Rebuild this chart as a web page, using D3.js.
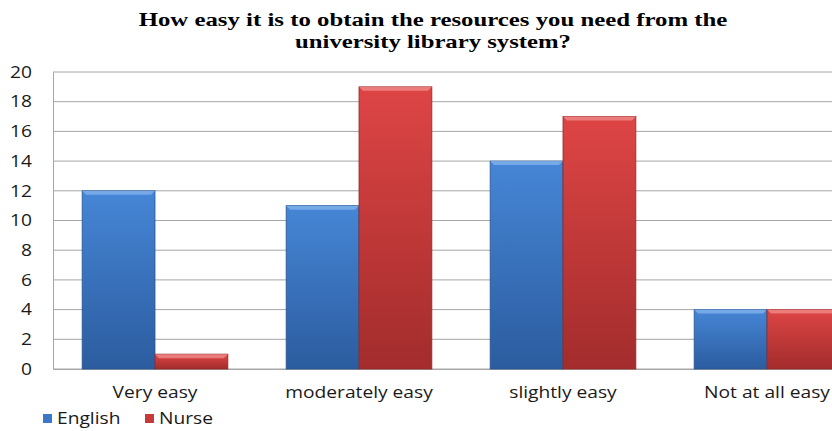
<!DOCTYPE html>
<html>
<head>
<meta charset="utf-8">
<script src="https://cdn.jsdelivr.net/npm/d3@7"></script>
<style>
  body { margin: 0; background: #fff; }
  svg { display: block; }
</style>
</head>
<body>
<div class="container"></div>
<script>
// chart data
const categories = ['Very easy', 'moderately easy', 'slightly easy', 'Not at all easy'];
const seriesNames = ['English', 'Nurse'];
const english = [12, 11, 14, 4];
const nurse = [1, 19, 17, 4];
const yTicks = [0, 2, 4, 6, 8, 10, 12, 14, 16, 18, 20];
const titleLines = ['How easy it is to obtain the resources you need from the', 'university library system?'];

const width = 832, height = 431;
const plotLeft = 53, plotTop = 72, plotBottom = 369, plotRight = 869;
const stretch = 1.2; // the reference text is drawn wide

let svg = d3.select('.container')
    .append('svg')
    .attr('width', width)
    .attr('height', height)

let defs = svg.append('defs')
let grads = [['blue', '#4686d6', '#2b5c9f'], ['red', '#de4545', '#a32c2c']]
grads.forEach(g => {
    let lg = defs.append('linearGradient')
        .attr('id', 'g-' + g[0])
        .attr('x1', 0).attr('y1', 0).attr('x2', 0).attr('y2', 1)
    lg.append('stop').attr('offset', '0%').attr('stop-color', g[1])
    lg.append('stop').attr('offset', '100%').attr('stop-color', g[2])
})
const fills = ['url(#g-blue)', 'url(#g-red)']
const edges = ['#2a5590', '#962828']
const tops = ['#82b2ec', '#f08a8a']
const legendColors = ['#3b78c8', '#c83a3a']

let y = d3.scaleLinear()
    .domain([0, 20])
    .range([plotBottom, plotTop])
let x0 = d3.scaleBand()
    .domain(categories)
    .range([plotLeft, plotRight])
    .paddingInner(0)
    .paddingOuter(0)
let x1 = d3.scaleBand()
    .domain(seriesNames)
    .range([0, x0.bandwidth()])
    .paddingOuter(0.4)
    .paddingInner(0)

// gridlines
svg.append('g')
    .selectAll('line')
    .data(yTicks)
    .enter()
    .append('line')
    .attr('x1', plotLeft)
    .attr('x2', plotRight)
    .attr('y1', d => y(d))
    .attr('y2', d => y(d))
    .attr('stroke', '#a6a6a6')
    .attr('stroke-width', 1)

let yAxis = d3.axisLeft(y)
    .tickValues(yTicks)
    .tickSize(0)
let gy = svg.append('g')
    .attr('transform', 'translate(' + plotLeft + ',0)')
    .call(yAxis)
gy.select('.domain').attr('stroke', '#a6a6a6')
gy.selectAll('text')
    .attr('x', -21 / stretch)
    .attr('dy', '0.33em')
    .attr('transform', 'scale(' + stretch + ',1)')
    .attr('font-family', 'Open Sans')
    .attr('font-size', 16)
    .attr('fill', '#1a1a1a')

let xAxis = d3.axisBottom(x0).tickSize(0)
let gx = svg.append('g')
    .attr('transform', 'translate(0,' + plotBottom + ')')
    .call(xAxis)
gx.select('.domain').attr('stroke', '#a6a6a6')
gx.selectAll('text')
    .attr('y', 29)
    .attr('dy', 0)
    .attr('transform', 'scale(' + stretch + ',1)')
    .attr('font-family', 'Open Sans')
    .attr('font-size', 16)
    .attr('fill', '#1a1a1a')

// bars
let rows = categories.map((c, i) => ({ cat: c, vals: [english[i], nurse[i]] }))
let groups = svg.selectAll('.grp')
    .data(rows)
    .enter()
    .append('g')
    .attr('transform', d => 'translate(' + x0(d.cat) + ',0)')
groups.each(function (d) {
    let g = d3.select(this)
    d.vals.forEach((v, k) => {
        let bx = x1(seriesNames[k]), bw = x1.bandwidth()
        let by = y(v), bh = plotBottom - y(v)
        g.append('rect')
            .attr('x', bx).attr('y', by)
            .attr('width', bw).attr('height', bh)
            .attr('fill', fills[k])
            .attr('stroke', edges[k])
            .attr('stroke-width', 0.8)
        // bevel on top edge
        let b = Math.min(4, bh / 2)
        g.append('path')
            .attr('d', 'M' + bx + ',' + by + 'h' + bw + 'l-' + b + ',' + b + 'h-' + (bw - 2 * b) + 'z')
            .attr('fill', tops[k])
            .attr('opacity', 0.8)
    })
})

// title, squeezed/stretched to the widths seen in the reference
let titleLen = [589, 276]
svg.selectAll('.title')
    .data(titleLines)
    .enter()
    .append('text')
    .attr('class', 'title')
    .attr('text-anchor', 'middle')
    .attr('font-family', 'Liberation Serif')
    .attr('font-weight', 'bold')
    .attr('font-size', 18)
    .text(d => d)
    .attr('transform', function (d, i) {
        let s = titleLen[i] / this.getComputedTextLength()
        return 'translate(433,' + (26 + i * 22) + ') scale(' + s + ',1)'
    })

// legend
let legendX = [43, 145]
let items = svg.append('g')
    .selectAll('g')
    .data(seriesNames)
    .enter()
    .append('g')
    .attr('transform', (d, i) => 'translate(' + legendX[i] + ',414)')
items.append('rect')
    .attr('width', 9).attr('height', 9)
    .attr('fill', (d, i) => legendColors[i])
items.append('text')
    .attr('x', 14 / stretch)
    .attr('y', 10)
    .attr('transform', 'scale(' + stretch + ',1)')
    .attr('font-family', 'Open Sans')
    .attr('font-size', 16)
    .attr('fill', '#1a1a1a')
    .text(d => d)
</script>
</body>
</html>
